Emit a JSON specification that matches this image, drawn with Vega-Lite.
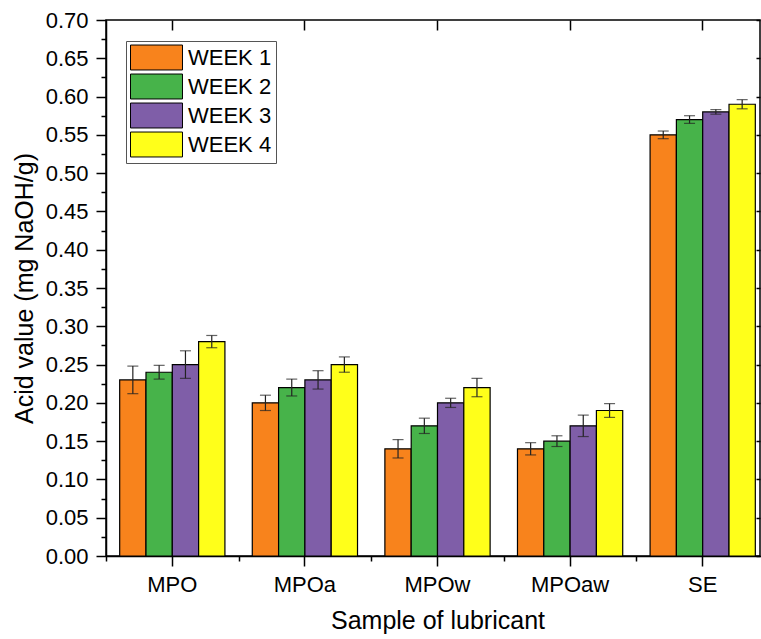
{
  "$schema": "https://vega.github.io/schema/vega-lite/v6.json",
  "width": 654,
  "height": 536,
  "autosize": {"type": "none"},
  "padding": {"left": 106, "top": 20, "right": 1, "bottom": 83},
  "background": "white",
  "config": {
    "font": "Liberation Sans",
    "view": {"stroke": "black", "strokeWidth": 1.5},
    "axis": {
      "grid": false,
      "domainColor": "black",
      "domainWidth": 1.5,
      "tickColor": "black",
      "tickWidth": 1.5,
      "labelColor": "black",
      "titleColor": "black",
      "labelFont": "Liberation Sans",
      "titleFont": "Liberation Sans",
      "titleFontWeight": "normal"
    }
  },
  "data": {
    "values": [
      {"Sample": "MPO", "Week": "WEEK 1", "value": 0.23, "err": 0.018},
      {"Sample": "MPO", "Week": "WEEK 2", "value": 0.24, "err": 0.009},
      {"Sample": "MPO", "Week": "WEEK 3", "value": 0.25, "err": 0.018},
      {"Sample": "MPO", "Week": "WEEK 4", "value": 0.28, "err": 0.008},
      {"Sample": "MPOa", "Week": "WEEK 1", "value": 0.20, "err": 0.010},
      {"Sample": "MPOa", "Week": "WEEK 2", "value": 0.22, "err": 0.011},
      {"Sample": "MPOa", "Week": "WEEK 3", "value": 0.23, "err": 0.012},
      {"Sample": "MPOa", "Week": "WEEK 4", "value": 0.25, "err": 0.010},
      {"Sample": "MPOw", "Week": "WEEK 1", "value": 0.14, "err": 0.012},
      {"Sample": "MPOw", "Week": "WEEK 2", "value": 0.17, "err": 0.010},
      {"Sample": "MPOw", "Week": "WEEK 3", "value": 0.20, "err": 0.006},
      {"Sample": "MPOw", "Week": "WEEK 4", "value": 0.22, "err": 0.012},
      {"Sample": "MPOaw", "Week": "WEEK 1", "value": 0.14, "err": 0.008},
      {"Sample": "MPOaw", "Week": "WEEK 2", "value": 0.15, "err": 0.007},
      {"Sample": "MPOaw", "Week": "WEEK 3", "value": 0.17, "err": 0.014},
      {"Sample": "MPOaw", "Week": "WEEK 4", "value": 0.19, "err": 0.009},
      {"Sample": "SE", "Week": "WEEK 1", "value": 0.55, "err": 0.005},
      {"Sample": "SE", "Week": "WEEK 2", "value": 0.57, "err": 0.005},
      {"Sample": "SE", "Week": "WEEK 3", "value": 0.58, "err": 0.003},
      {"Sample": "SE", "Week": "WEEK 4", "value": 0.59, "err": 0.006}
    ]
  },
  "resolve": {"axis": {"x": "independent", "y": "independent"}},
  "layer": [
    {
      "mark": {"type": "bar", "stroke": "black", "strokeWidth": 1.2},
      "encoding": {
        "x": {
          "field": "Sample",
          "type": "nominal",
          "sort": ["MPO", "MPOa", "MPOw", "MPOaw", "SE"],
          "scale": {"range": [0, 663], "paddingInner": 0, "paddingOuter": 0},
          "axis": {
            "orient": "bottom",
            "tickSize": 10,
            "labelAngle": 0,
            "labelFontSize": 22,
            "labelPadding": 8,
            "title": "Sample of lubricant",
            "titleFontSize": 25,
            "titlePadding": 13
          }
        },
        "xOffset": {
          "field": "Week",
          "type": "nominal",
          "scale": {"paddingInner": 0, "paddingOuter": 0.52}
        },
        "y": {
          "field": "value",
          "type": "quantitative",
          "scale": {"domain": [0, 0.7], "nice": false, "zero": true},
          "axis": {
            "orient": "left",
            "values": [0, 0.025, 0.05, 0.075, 0.1, 0.125, 0.15, 0.175, 0.2, 0.225, 0.25, 0.275, 0.3, 0.325, 0.35, 0.375, 0.4, 0.425, 0.45, 0.475, 0.5, 0.525, 0.55, 0.575, 0.6, 0.625, 0.65, 0.675, 0.7],
            "labelExpr": "abs(round(datum.value*20)-datum.value*20)<0.001 ? format(datum.value,'.2f') : ''",
            "tickSize": {"condition": {"test": "abs(round(datum.value*20)-datum.value*20)<0.001", "value": 10}, "value": 5},
            "labelFontSize": 22,
            "labelPadding": 8,
            "title": "Acid value (mg NaOH/g)",
            "titleFontSize": 25,
            "titlePadding": 8
          }
        },
        "color": {
          "field": "Week",
          "type": "nominal",
          "scale": {"range": ["#F8831C", "#47B34A", "#7F5EA8", "#FFFF1A"]},
          "legend": {
            "orient": "none",
            "legendX": 20,
            "legendY": 21,
            "title": null,
            "symbolType": "M-1,-1.04H3.333V1.04H-1Z",
            "symbolSize": 576,
            "symbolStrokeColor": "black",
            "symbolStrokeWidth": 1,
            "symbolOpacity": 1,
            "labelFontSize": 22,
            "labelFont": "Liberation Sans",
            "labelColor": "black",
            "labelOffset": 33,
            "rowPadding": 0,
            "padding": 4,
            "strokeColor": "#555",
            "fillColor": "white"
          }
        }
      }
    },
    {
      "mark": {"type": "errorbar", "color": "#222", "thickness": 1.2, "ticks": {"size": 11, "thickness": 1.2, "color": "#222"}},
      "encoding": {
        "x": {
          "field": "Sample",
          "type": "nominal",
          "sort": ["MPO", "MPOa", "MPOw", "MPOaw", "SE"],
          "axis": {"orient": "bottom", "tickBand": "extent", "labels": false, "domain": false, "tickSize": 5, "title": null}
        },
        "xOffset": {"field": "Week", "type": "nominal"},
        "y": {
          "field": "value",
          "type": "quantitative",
          "axis": {"orient": "right", "labels": false, "domain": false, "tickSize": -4, "values": [0, 0.05, 0.1, 0.15, 0.2, 0.25, 0.3, 0.35, 0.4, 0.45, 0.5, 0.55, 0.6, 0.65, 0.7], "title": null}
        },
        "yError": {"field": "err"}
      }
    },
    {
      "mark": {"type": "bar", "opacity": 0},
      "encoding": {
        "x": {
          "field": "Sample",
          "type": "nominal",
          "sort": ["MPO", "MPOa", "MPOw", "MPOaw", "SE"],
          "axis": {"orient": "top", "labels": false, "domain": false, "tickSize": -10, "title": null}
        },
        "xOffset": {"field": "Week", "type": "nominal"},
        "y": {"field": "value", "type": "quantitative", "axis": null}
      }
    }
  ]
}
